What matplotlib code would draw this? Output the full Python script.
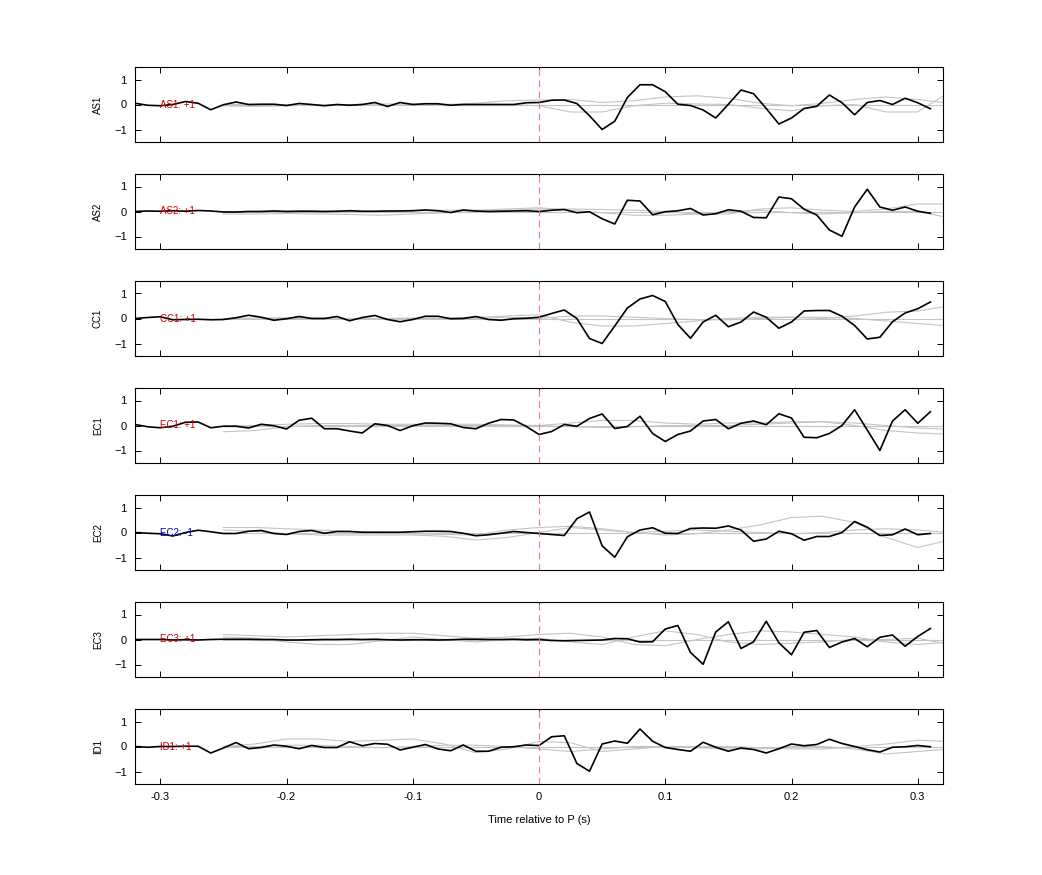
"""Stacked per-station waveforms around the P arrival (black) with gray reference traces."""

import matplotlib
matplotlib.use("Agg")
import matplotlib.pyplot as plt
import numpy as np

STATIONS = ["AS1", "AS2", "CC1", "EC1", "EC2", "EC3", "ID1"]
POLARITY = ["+1", "+1", "+1", "+1", "-1", "+1", "+1"]

# black traces sampled every 0.01 s from -0.32 to 0.31
T = np.round(np.arange(-0.32, 0.315, 0.01), 2)
AS1 = [0.05, -0.03, -0.05, 0, 0.12, 0.05, -0.21, -0.01, 0.1, 0, 0.01, 0.01, -0.04, 0.04, 0, -0.05,
       0, -0.03, 0, 0.08, -0.08, 0.08, 0, 0.03, 0.03, -0.03, 0, 0, 0, 0, 0, 0.07,
       0.08, 0.17, 0.18, 0.04, -0.45, -1.0, -0.67, 0.28, 0.79, 0.79, 0.51, 0.01, -0.04, -0.22, -0.54, 0.01,
       0.58, 0.43, -0.16, -0.78, -0.54, -0.16, -0.07, 0.38, 0.07, -0.41, 0.08, 0.16, 0, 0.25, 0.07, -0.17]
AS2 = [0, 0.02, 0.01, 0.03, 0.01, 0.04, 0.02, -0.02, -0.02, 0, 0, 0.02, 0, 0.01, 0.01, 0,
       0.01, 0.03, 0.01, 0.01, 0.02, 0.02, 0.03, 0.06, 0.03, -0.04, 0.06, 0.02, 0, 0.01, 0.02, 0.03,
       0, 0.05, 0.08, -0.05, -0.01, -0.29, -0.5, 0.45, 0.42, -0.13, -0.01, 0.03, 0.12, -0.14, -0.09, 0.07,
       0.01, -0.24, -0.25, 0.58, 0.51, 0.09, -0.14, -0.74, -0.99, 0.18, 0.89, 0.18, 0.05, 0.18, 0.01, -0.07]
CC1 = [0, 0.04, 0.07, -0.05, -0.04, -0.03, -0.05, -0.04, 0.03, 0.13, 0.05, -0.07, -0.01, 0.08, 0, 0,
       0.08, -0.09, 0.04, 0.12, -0.04, -0.13, -0.04, 0.09, 0.09, -0.01, 0, 0.08, -0.04, -0.07, -0.01, 0.01,
       0.05, 0.2, 0.34, 0, -0.8, -1.0, -0.3, 0.42, 0.78, 0.92, 0.68, -0.24, -0.79, -0.14, 0.13, -0.33,
       -0.14, 0.26, 0.05, -0.39, -0.14, 0.3, 0.32, 0.32, 0.09, -0.28, -0.82, -0.75, -0.13, 0.22, 0.39, 0.66]
EC1 = [0.04, -0.05, -0.09, -0.03, 0.13, 0.14, -0.09, -0.03, -0.03, -0.1, 0.05, -0.01, -0.14, 0.21, 0.29, -0.13,
       -0.13, -0.22, -0.3, 0.07, 0, -0.2, -0.01, 0.1, 0.09, 0.07, -0.08, -0.13, 0.09, 0.24, 0.22, -0.04,
       -0.36, -0.24, 0.04, -0.03, 0.28, 0.46, -0.12, -0.04, 0.37, -0.32, -0.64, -0.36, -0.22, 0.18, 0.24, -0.13,
       0.09, 0.18, 0.03, 0.47, 0.3, -0.47, -0.49, -0.32, 0, 0.63, -0.18, -1.0, 0.18, 0.63, 0.09, 0.55]
EC2 = [0, -0.03, -0.05, -0.14, 0, 0.09, 0.03, -0.04, -0.04, 0.05, 0.08, -0.04, -0.08, 0.04, 0.08, -0.03,
       0.04, 0.04, 0.01, 0.01, 0.01, 0.01, 0.03, 0.05, 0.05, 0.04, -0.03, -0.13, -0.09, -0.03, 0.04, 0,
       -0.04, -0.08, -0.12, 0.55, 0.82, -0.53, -0.99, -0.17, 0.1, 0.19, -0.03, -0.04, 0.16, 0.18, 0.17, 0.26,
       0.1, -0.35, -0.26, 0.05, -0.05, -0.31, -0.16, -0.16, 0, 0.44, 0.21, -0.12, -0.09, 0.14, -0.09, -0.04]
EC3 = [0, 0, 0, -0.02, -0.01, -0.02, 0, 0.01, 0.01, 0.01, 0, 0, -0.02, -0.02, -0.01, 0,
       0, 0.01, 0, 0.01, -0.01, -0.02, -0.01, -0.01, -0.02, -0.01, 0.01, 0.01, 0, 0, 0.01, -0.01,
       0, -0.04, -0.05, -0.04, -0.03, -0.02, 0.04, 0.03, -0.1, -0.09, 0.42, 0.56, -0.52, -0.99, 0.3, 0.71,
       -0.36, -0.09, 0.73, -0.13, -0.61, 0.29, 0.36, -0.32, -0.1, 0.04, -0.29, 0.09, 0.18, -0.27, 0.12, 0.44]
ID1 = [0, -0.03, 0, 0, 0.01, 0.01, -0.26, -0.06, 0.16, -0.09, -0.04, 0.06, 0.01, -0.09, 0.04, -0.04,
       -0.04, 0.19, 0.03, 0.12, 0.09, -0.14, -0.03, 0.08, -0.1, -0.17, 0.06, -0.19, -0.19, -0.03, -0.01, 0.06,
       0.04, 0.39, 0.43, -0.68, -0.99, 0.1, 0.22, 0.13, 0.7, 0.21, -0.04, -0.12, -0.19, 0.17, -0.03, -0.19,
       -0.06, -0.12, -0.26, -0.09, 0.1, 0.03, 0.08, 0.29, 0.12, 0, -0.13, -0.22, -0.03, -0.01, 0.04, -0.01]
TRACES = [AS1, AS2, CC1, EC1, EC2, EC3, ID1]

# gray reference traces, read every 0.025 s from -0.25 to 0.325
TG = np.round(np.arange(-0.25, 0.33, 0.025), 3)
GRAY = [
    [[0, 0, -0.02, -0.03, 0, 0.02, 0.02, 0, 0.05, 0.15, 0.18, 0.2, 0.08, 0.15, 0.3, 0.35, 0.25, 0.05, -0.05, 0.05, 0.2, 0.3, 0.2, 0.05],
     [-0.05, -0.08, -0.05, -0.03, -0.02, -0.03, -0.02, 0, 0, 0, -0.05, -0.3, -0.3, -0.05, 0.05, 0.02, 0, -0.15, -0.25, -0.05, 0, -0.3, -0.3, 0.5]],
    [[-0.1, -0.1, -0.08, -0.1, -0.12, -0.15, -0.1, -0.05, 0, 0.05, 0.1, 0.1, 0.08, 0.05, 0, -0.1, -0.1, 0.1, 0.15, 0.05, 0, 0.1, 0.3, 0.3],
     [0, 0, 0.02, 0.02, 0, 0, 0.05, 0.05, 0.05, 0.1, 0.15, 0.05, -0.05, -0.15, -0.15, -0.1, 0, 0.05, -0.05, -0.1, -0.05, 0, 0, -0.25]],
    [[0, 0.02, 0.03, 0, -0.02, 0, 0.02, 0.02, 0.05, 0.1, 0.15, -0.15, -0.3, -0.3, -0.2, -0.1, 0, 0.05, 0.05, 0, 0.1, 0.25, 0.3, 0.5],
     [0, -0.02, 0, 0.02, 0, -0.02, 0, 0, 0, 0.05, 0, 0.1, 0.1, 0.05, 0, -0.05, -0.05, 0, 0.05, 0.05, 0, -0.1, -0.2, -0.3]],
    [[-0.25, -0.2, -0.05, 0, 0, 0, 0, 0, 0, 0, 0, 0.1, 0.2, 0.2, 0.1, 0.05, 0.1, 0.1, 0.15, 0.15, 0, -0.2, -0.3, -0.35],
     [0, 0, 0.05, 0.08, 0.08, 0.05, 0.05, 0.05, 0.05, 0.02, 0, -0.05, -0.08, -0.05, 0, 0, 0, 0.05, 0.1, 0.15, 0.1, 0, -0.1, -0.15]],
    [[0.2, 0.2, 0.15, 0.1, 0.05, 0, -0.05, -0.08, -0.1, 0.1, 0.2, 0.25, 0.15, 0, -0.1, -0.05, 0.1, 0.3, 0.6, 0.65, 0.4, -0.2, -0.6, -0.3],
     [0.1, 0.05, -0.05, -0.1, -0.1, -0.1, -0.1, -0.15, -0.3, -0.2, 0, 0.2, 0.1, 0, 0.05, 0.1, 0.05, 0, -0.05, 0, 0.1, 0.15, 0.1, 0]],
    [[0.2, 0.15, 0.1, 0.15, 0.2, 0.25, 0.25, 0.15, 0.05, 0.1, 0.2, 0.25, 0.1, -0.2, -0.25, 0, 0.2, 0.35, 0.3, 0.2, 0.1, -0.1, -0.2, -0.1],
     [0.1, 0.05, -0.1, -0.2, -0.2, -0.05, 0.1, 0, -0.1, 0, 0.05, -0.1, -0.2, 0.1, 0.35, 0.2, -0.1, -0.2, -0.15, -0.1, 0, 0, 0.05, -0.2]],
    [[0, 0.1, 0.3, 0.3, 0.2, 0.25, 0.3, 0.1, -0.25, -0.1, 0.2, 0.15, -0.2, -0.1, 0, 0, 0, -0.05, -0.1, -0.1, 0, 0.1, 0.25, 0.2],
     [0, 0, 0.05, 0.05, 0, -0.05, 0, 0.05, 0.05, 0, -0.1, -0.2, -0.1, 0, 0, -0.05, -0.1, -0.1, 0, 0, -0.1, -0.3, -0.2, -0.1]],
]

plt.rcParams["font.family"] = ["Liberation Sans", "DejaVu Sans"]

fig = plt.figure(figsize=(10.42, 8.75), dpi=100)
W, H = 1042, 875
left, width = 135 / W, (943 - 135) / W
for i, name in enumerate(STATIONS):
    top = 67 + 107 * i
    ax = fig.add_axes([left, 1 - (top + 75) / H, width, 75 / H])
    for g in GRAY[i]:
        ax.plot(TG, g, color="#c4c4c4", lw=0.8)
    ax.plot(TG, np.zeros(len(TG)), color="#c4c4c4", lw=0.8)
    ax.plot(T, TRACES[i], color="black", lw=1.2)
    ax.axvline(0, color="#e88080", ls=(0, (6, 4)), lw=0.8)
    color = "#0000cc" if POLARITY[i].startswith("-") else "#cc0000"
    ax.text(-0.3, 0, f"{name}: {POLARITY[i]}", color=color, fontsize=7, va="center")
    ax.set_xlim(-0.32, 0.32)
    ax.set_ylim(-1.5, 1.5)
    ax.set_yticks([-1, 0, 1])
    ax.set_xticks([-0.3, -0.2, -0.1, 0, 0.1, 0.2, 0.3])
    ax.tick_params(direction="in", top=True, right=True, labelsize=8, length=4, width=0.7, pad=6)
    ax.set_ylabel(name, fontsize=7, labelpad=8)
    for s in ax.spines.values():
        s.set_linewidth(0.8)
    if i < len(STATIONS) - 1:
        ax.set_xticklabels([])
    else:
        ax.set_xticklabels(["-0.3", "-0.2", "-0.1", "0", "0.1", "0.2", "0.3"])
        ax.set_xlabel("Time relative to P (s)", fontsize=8, labelpad=9)

fig.savefig("out.png", dpi=100)
